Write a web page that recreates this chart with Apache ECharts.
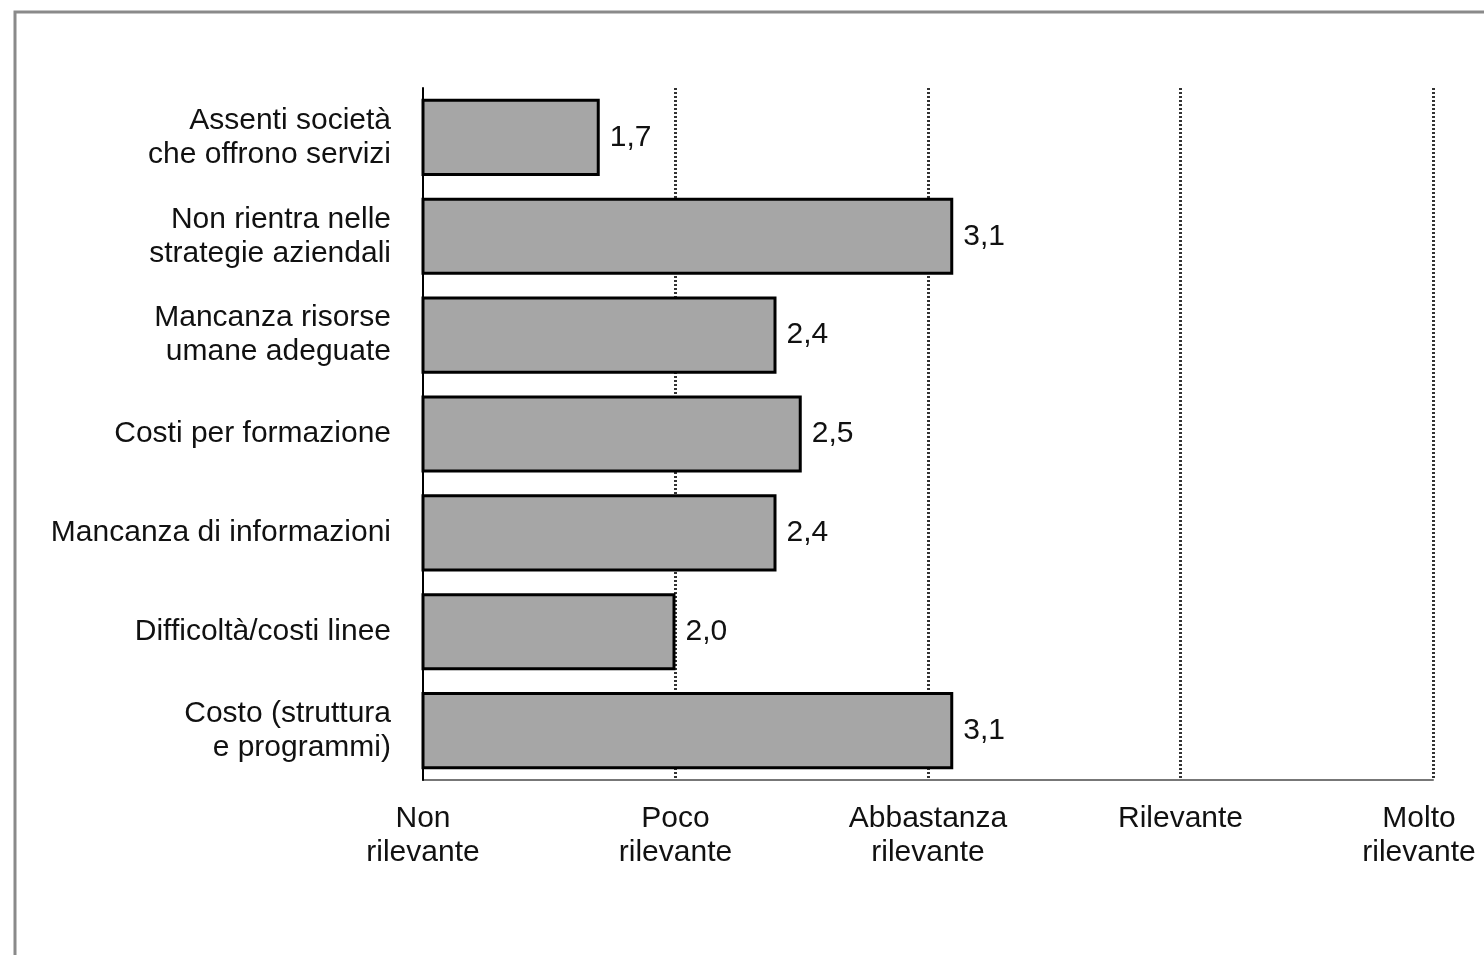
<!DOCTYPE html>
<html>
<head>
<meta charset="utf-8">
<script src="https://cdn.jsdelivr.net/npm/echarts@6/dist/echarts.min.js"></script>
<style>
html,body{margin:0;padding:0;background:#fff;overflow:hidden;}
#chart{width:1484px;height:955px;}
</style>
</head>
<body>
<div id="chart"></div>
<script>
const categories = [
  "Assenti società\nche offrono servizi",
  "Non rientra nelle\nstrategie aziendali",
  "Mancanza risorse\numane adeguate",
  "Costi per formazione",
  "Mancanza di informazioni",
  "Difficoltà/costi linee",
  "Costo (struttura\ne programmi)"
];
const values = [1.7, 3.1, 2.4, 2.5, 2.4, 2.0, 3.1];
const tickLabels = {
  1: "Non\nrilevante",
  2: "Poco\nrilevante",
  3: "Abbastanza\nrilevante",
  4: "Rilevante",
  5: "Molto\nrilevante"
};

const FONT = "'Liberation Sans', Arial, sans-serif";
const chart = echarts.init(document.getElementById('chart'), null, {renderer: 'canvas', width: 1484, height: 955});
chart.setOption({
  animation: false,
  backgroundColor: '#fff',
  graphic: [{
    type: 'rect',
    shape: {x: 15, y: 12, width: 1600, height: 1200},
    style: {fill: 'none', stroke: '#8a8a8a', lineWidth: 3},
    silent: true,
    z: -1
  }],
  grid: {left: 423, right: 51, top: 88, bottom: 175, containLabel: false, outerBoundsMode: 'none'},
  xAxis: {
    type: 'value',
    min: 1, max: 5, interval: 1,
    axisLine: {show: true, lineStyle: {color: '#777', width: 2}},
    axisTick: {show: false},
    splitLine: {show: true, showMinLine: false, lineStyle: {color: '#333', width: 3, type: [2, 2]}},
    axisLabel: {
      formatter: v => v === 5 ? '{last|' + tickLabels[v].replace('\n', '}\n{last|') + '}' : (tickLabels[v] || ''),
      color: '#111', fontFamily: FONT, fontSize: 30, lineHeight: 34,
      margin: 22, align: 'center', hideOverlap: false,
      rich: {last: {fontFamily: FONT, fontSize: 30, lineHeight: 34, color: '#111', padding: [0, 28, 0, 0]}}
    }
  },
  yAxis: {
    type: 'category',
    data: categories,
    inverse: true,
    z: 5,
    axisLine: {show: true, lineStyle: {color: '#000', width: 2}},
    axisTick: {show: false},
    splitLine: {show: false},
    axisLabel: {
      color: '#111', fontFamily: FONT, fontSize: 30, lineHeight: 34,
      margin: 32, align: 'right'
    }
  },
  series: [{
    type: 'bar',
    data: values,
    barCategoryGap: '22%',
    clip: true,
    itemStyle: {color: '#a6a6a6', borderColor: '#000', borderWidth: 3},
    label: {
      show: true, position: 'right', distance: 10,
      formatter: p => values[p.dataIndex].toFixed(1).replace('.', ','),
      color: '#111', fontFamily: FONT, fontSize: 30
    }
  }]
});
</script>
</body>
</html>
